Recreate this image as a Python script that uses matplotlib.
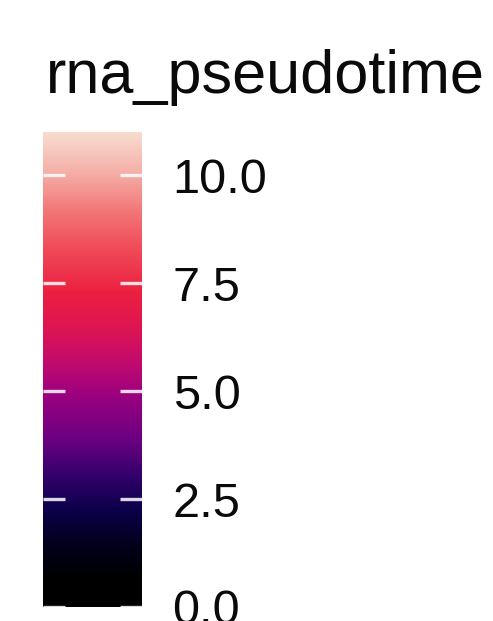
import numpy as np
import matplotlib
matplotlib.use('Agg')
import matplotlib.pyplot as plt
from matplotlib.colors import LinearSegmentedColormap

plt.rcParams['font.family'] = ['Liberation Sans', 'DejaVu Sans']

# legend data
title = 'rna_pseudotime'
vmin, vmax = 0.0, 11.0
tick_values = [0.0, 2.5, 5.0, 7.5, 10.0]
tick_labels = ['0.0', '2.5', '5.0', '7.5', '10.0']

# colour stops of the gradient (value -> colour)
stop_values = [0.0, 0.6, 1.4, 2.2, 3.0, 3.85, 4.8, 5.6, 6.4, 7.3, 8.3, 9.2, 10.1, 11.0]
stop_colors = ['#000000', '#000000', '#02001a', '#0a0048', '#30006a', '#6a0080',
               '#960080', '#c00a70', '#dc1454', '#ec2040', '#f04a58', '#f27878',
               '#f5b0a8', '#f8dccf']

pos = [(v - vmin) / (vmax - vmin) for v in stop_values]
cmap = LinearSegmentedColormap.from_list('pt', list(zip(pos, stop_colors)))

W, H = 493, 621
fig = plt.figure(figsize=(W / 100, H / 100), dpi=100)

# colour bar
ax = fig.add_axes([43 / W, (H - 607) / H, 99 / W, 475 / H])
grad = np.linspace(vmin, vmax, 512).reshape(-1, 1)
ax.imshow(grad, cmap=cmap, aspect='auto', origin='lower',
          extent=[0, 1, vmin, vmax], vmin=vmin, vmax=vmax, interpolation='bilinear')
ax.set_xlim(0, 1)
ax.set_ylim(vmin, vmax)

# white tick marks on both sides
for v in tick_values:
    ax.plot([0, 0.22], [v, v], color='white', lw=2.4, alpha=0.85, solid_capstyle='butt')
    ax.plot([0.78, 1], [v, v], color='white', lw=2.4, alpha=0.85, solid_capstyle='butt')

ax.set_xticks([])
ax.yaxis.tick_right()
ax.set_yticks(tick_values)
ax.set_yticklabels(tick_labels)
ax.tick_params(axis='y', length=0, pad=22, labelsize=35, labelcolor='#0a0a0a')
for s in ax.spines.values():
    s.set_visible(False)

fig.text(46 / W, 1 - 93 / H, title, fontsize=44, color='#0a0a0a',
         ha='left', va='baseline')

fig.savefig('out.png', dpi=100)
